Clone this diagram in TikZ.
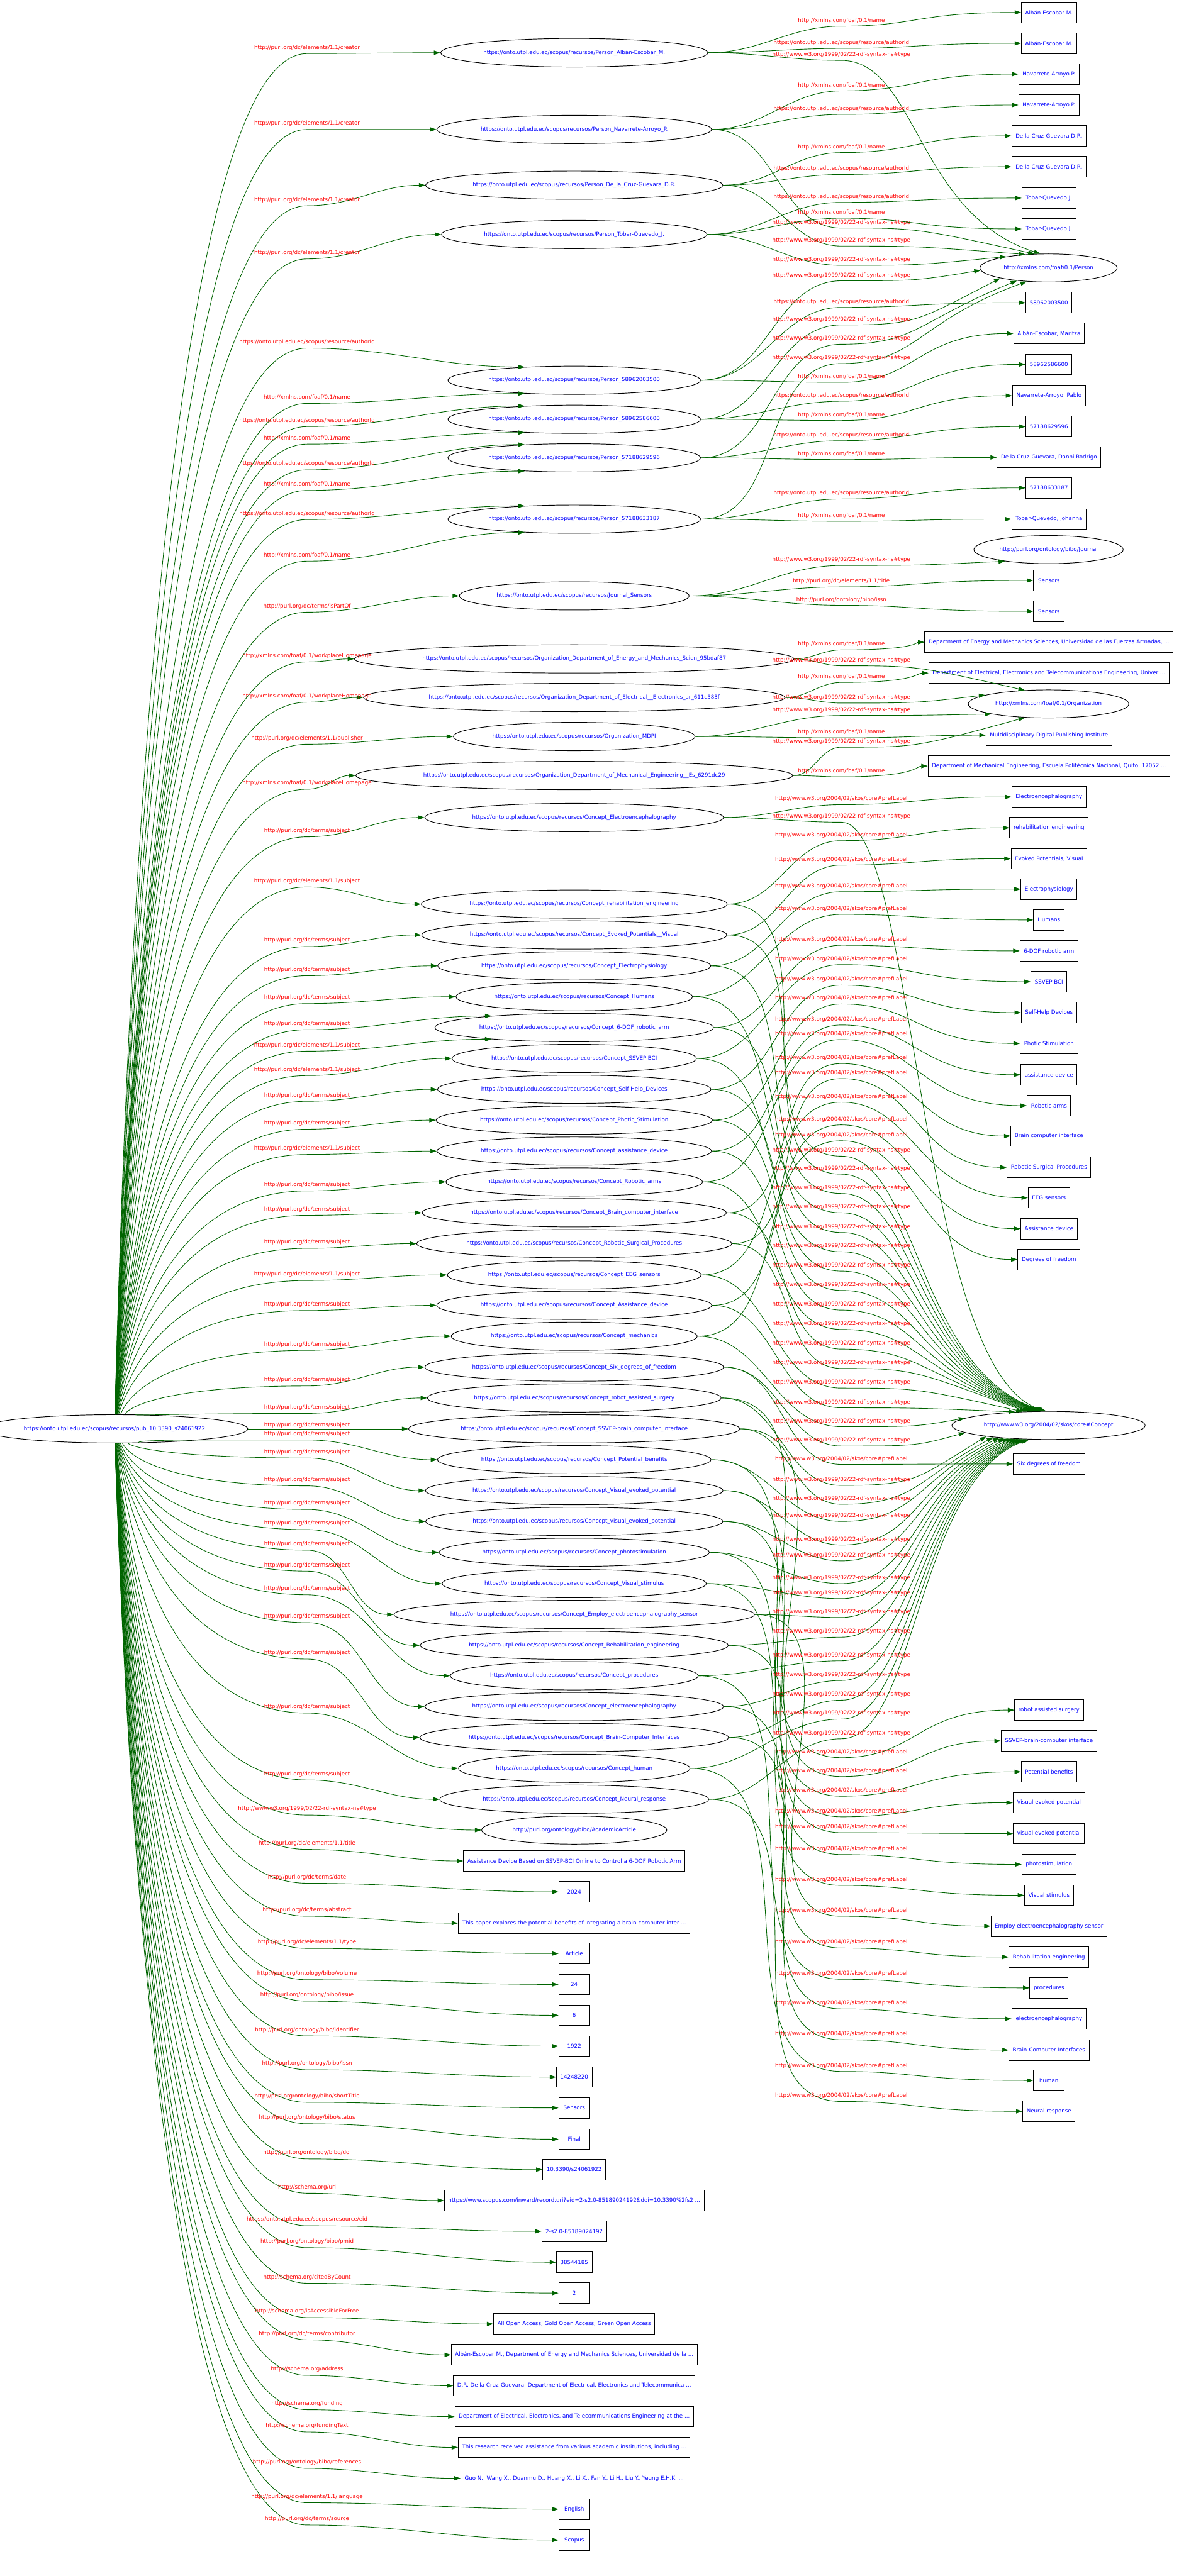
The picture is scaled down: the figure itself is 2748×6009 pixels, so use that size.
\documentclass[tikz,border=0pt]{standalone}
\usepackage{fontspec}
\setmainfont{DejaVu Sans}
\usetikzlibrary{arrows.meta,shapes.geometric}
\definecolor{edgegreen}{RGB}{0,100,0}
\definecolor{nodeblue}{RGB}{0,0,255}
\definecolor{labred}{RGB}{255,0,0}
\newdimen\ellw
\newdimen\ellh
\newcommand\nfont{\fontsize{12.75pt}{15pt}\selectfont}
\newcommand\Rp{https://onto.utpl.edu.ec/scopus/recursos/}
\newcommand\LbName{http://xmlns.com/foaf/0.1/name}
\newcommand\LbAuth{https://onto.utpl.edu.ec/scopus/resource/authorId}
\newcommand\LbType{http://www.w3.org/1999/02/22-rdf-syntax-ns\#type}
\newcommand\LbPref{http://www.w3.org/2004/02/skos/core\#prefLabel}
\newcommand\LbCreator{http://purl.org/dc/elements/1.1/creator}
\newcommand\LbWork{http://xmlns.com/foaf/0.1/workplaceHomepage}
\newcommand\LbSubj{http://purl.org/dc/terms/subject}
\newcommand\LbESubj{http://purl.org/dc/elements/1.1/subject}
\newcommand\ENode[4]{\setbox0=\hbox{\nfont #4}\ellw=-0.0828\wd0\advance\ellw by 8.49pt\relax
  \ellh=-0.5\ht0\advance\ellh by -0.5\dp0\advance\ellh by 16.97pt\relax
  \node[ell,inner xsep=\ellw,inner ysep=\ellh] (#1) at (#2,#3) {#4};}
\newcommand\PubUp[3]{\draw[lnk] (pub) .. controls (310,{(3323+#1)/2}) and (430,{#1+14}) .. (716,{#1+14}) to[out=0,in=180] (#3); \node[elab] at (716,#1) {#2};}
\newcommand\PubDn[3]{\draw[lnk] (pub) .. controls (310,{(3371+#1)/2}) and (430,{#1+14}) .. (716,{#1+14}) to[out=0,in=180] (#3); \node[elab] at (716,#1) {#2};}
\newcommand\RtBox[5]{\draw[lnk] (#1) to[out=0,in=180] (1962,{#2+13}) .. controls (2137,{#2+13}) and (2137,#5) .. (#4.west); \node[elab] at (1962,#2) {#3};}
\newcommand\RtType[6]{\draw[lnk] (#1) to[out=0,in=180] (1962,{#2+13}) .. controls (2137,{#2+13}) and (2137,{ifthenelse(#2+13<#4,max(#2+13,#4-125),min(#2+13,#4+125))}) .. (#3.#5); \node[elab] at (1962,#2) {#6};}
\begin{document}
\begin{tikzpicture}[x=1pt,y=-1pt,
  ell/.style={ellipse,draw=black,line width=1.4pt,font=\nfont,text=nodeblue},
  bx/.style={rectangle,draw=black,line width=1.4pt,minimum height=48pt,minimum width=72pt,inner xsep=9pt,font=\nfont,text=nodeblue},
  elab/.style={font=\nfont,text=labred,inner sep=0pt},
  lnk/.style={draw=edgegreen,line width=1.3pt,-{Triangle[length=15pt,width=10pt]}}]
\fill[white] (0,0) rectangle (2748,6009);
\useasboundingbox (0,0) rectangle (2748,6009);

% ---- left node
\ENode{pub}{267}{3333}{\Rp pub\_10.3390\_s24061922}

% ---- middle column
\ENode{pA}{1339}{123}{\Rp Person\_Albán-Escobar\_M.}
\ENode{pN}{1339}{302}{\Rp Person\_Navarrete-Arroyo\_P.}
\ENode{pD}{1339}{432}{\Rp Person\_De\_la\_Cruz-Guevara\_D.R.}
\ENode{pT}{1339}{547}{\Rp Person\_Tobar-Quevedo\_J.}
\ENode{p1}{1339}{887}{\Rp Person\_58962003500}
\ENode{p2}{1339}{978}{\Rp Person\_58962586600}
\ENode{p3}{1339}{1068}{\Rp Person\_57188629596}
\ENode{p4}{1339}{1211}{\Rp Person\_57188633187}
\ENode{jS}{1339}{1390}{\Rp Journal\_Sensors}
\ENode{oEn}{1339}{1537}{\Rp Organization\_Department\_of\_Energy\_and\_Mechanics\_Scien\_95bdaf87}
\ENode{oEl}{1339}{1627}{\Rp Organization\_Department\_of\_Electrical\_\_Electronics\_ar\_611c583f}
\ENode{oMD}{1339}{1718}{\Rp Organization\_MDPI}
\ENode{oMe}{1339}{1809}{\Rp Organization\_Department\_of\_Mechanical\_Engineering\_\_Es\_6291dc29}
\ENode{c1}{1339}{1907}{\Rp Concept\_Electroencephalography}
\ENode{c2}{1339}{2109}{\Rp Concept\_rehabilitation\_engineering}
\ENode{c3}{1339}{2181}{\Rp Concept\_Evoked\_Potentials\_\_Visual}
\ENode{c4}{1339}{2253}{\Rp Concept\_Electrophysiology}
\ENode{c5}{1339}{2325}{\Rp Concept\_Humans}
\ENode{c6}{1339}{2397}{\Rp Concept\_6-DOF\_robotic\_arm}
\ENode{c7}{1339}{2469}{\Rp Concept\_SSVEP-BCI}
\ENode{c8}{1339}{2541}{\Rp Concept\_Self-Help\_Devices}
\ENode{c9}{1339}{2613}{\Rp Concept\_Photic\_Stimulation}
\ENode{c10}{1339}{2685}{\Rp Concept\_assistance\_device}
\ENode{c11}{1339}{2757}{\Rp Concept\_Robotic\_arms}
\ENode{c12}{1339}{2829}{\Rp Concept\_Brain\_computer\_interface}
\ENode{c13}{1339}{2901}{\Rp Concept\_Robotic\_Surgical\_Procedures}
\ENode{c14}{1339}{2974}{\Rp Concept\_EEG\_sensors}
\ENode{c15}{1339}{3045}{\Rp Concept\_Assistance\_device}
\ENode{c16}{1339}{3117}{\Rp Concept\_mechanics}
\ENode{c17}{1339}{3189}{\Rp Concept\_Six\_degrees\_of\_freedom}
\ENode{c18}{1339}{3261}{\Rp Concept\_robot\_assisted\_surgery}
\ENode{c19}{1339}{3333}{\Rp Concept\_SSVEP-brain\_computer\_interface}
\ENode{c20}{1339}{3405}{\Rp Concept\_Potential\_benefits}
\ENode{c21}{1339}{3477}{\Rp Concept\_Visual\_evoked\_potential}
\ENode{c22}{1339}{3549}{\Rp Concept\_visual\_evoked\_potential}
\ENode{c23}{1339}{3621}{\Rp Concept\_photostimulation}
\ENode{c24}{1339}{3694}{\Rp Concept\_Visual\_stimulus}
\ENode{c25}{1339}{3766}{\Rp Concept\_Employ\_electroencephalography\_sensor}
\ENode{c26}{1339}{3838}{\Rp Concept\_Rehabilitation\_engineering}
\ENode{c27}{1339}{3909}{\Rp Concept\_procedures}
\ENode{c28}{1339}{3981}{\Rp Concept\_electroencephalography}
\ENode{c29}{1339}{4053}{\Rp Concept\_Brain-Computer\_Interfaces}
\ENode{c30}{1339}{4125}{\Rp Concept\_human}
\ENode{c31}{1339}{4197}{\Rp Concept\_Neural\_response}
\ENode{aa}{1339}{4269}{http://purl.org/ontology/bibo/AcademicArticle}
\node[bx] (bTitle) at (1339,4341) {Assistance Device Based on SSVEP-BCI Online to Control a 6-DOF Robotic Arm};
\node[bx] (b2024) at (1339,4413) {2024};
\node[bx] (bAbs) at (1339,4486) {This paper explores the potential benefits of integrating a brain-computer inter ...};
\node[bx] (bArt) at (1339,4557) {Article};
\node[bx] (b24) at (1339,4629) {24};
\node[bx] (b6) at (1339,4701) {6};
\node[bx] (b1922) at (1339,4773) {1922};
\node[bx] (bIssn) at (1339,4845) {14248220};
\node[bx] (bSens) at (1339,4917) {Sensors};
\node[bx] (bFinal) at (1339,4990) {Final};
\node[bx] (bDoi) at (1339,5061) {10.3390/s24061922};
\node[bx] (bUrl) at (1339,5133) {https://www.scopus.com/inward/record.uri?eid=2-s2.0-85189024192\&doi=10.3390\%2fs2 ...};
\node[bx] (bEid) at (1339,5205) {2-s2.0-85189024192};
\node[bx] (bPmid) at (1339,5277) {38544185};
\node[bx] (b2) at (1339,5349) {2};
\node[bx] (bOA) at (1339,5421) {All Open Access; Gold Open Access; Green Open Access};
\node[bx] (bCon) at (1339,5493) {Albán-Escobar M., Department of Energy and Mechanics Sciences, Universidad de la ...};
\node[bx] (bAdd) at (1339,5565) {D.R. De la Cruz-Guevara; Department of Electrical, Electronics and Telecommunica ...};
\node[bx] (bFun) at (1339,5637) {Department of Electrical, Electronics, and Telecommunications Engineering at the ...};
\node[bx] (bFT) at (1339,5709) {This research received assistance from various academic institutions, including  ...};
\node[bx] (bRef) at (1339,5781) {Guo N., Wang X., Duanmu D., Huang X., Li X., Fan Y., Li H., Liu Y., Yeung E.H.K. ...};
\node[bx] (bEng) at (1339,5853) {English};
\node[bx] (bSco) at (1339,5925) {Scopus};

% ---- right column
\node[bx] (rA1) at (2446,29) {Albán-Escobar M.};
\node[bx] (rA2) at (2446,101) {Albán-Escobar M.};
\node[bx] (rN1) at (2446,173) {Navarrete-Arroyo P.};
\node[bx] (rN2) at (2446,245) {Navarrete-Arroyo P.};
\node[bx] (rD1) at (2446,317) {De la Cruz-Guevara D.R.};
\node[bx] (rD2) at (2446,389) {De la Cruz-Guevara D.R.};
\node[bx] (rT1) at (2446,462) {Tobar-Quevedo J.};
\node[bx] (rT2) at (2446,534) {Tobar-Quevedo J.};
\ENode{eP}{2445}{625}{http://xmlns.com/foaf/0.1/Person}
\node[bx] (r1id) at (2446,706) {58962003500};
\node[bx] (r1n) at (2446,778) {Albán-Escobar, Maritza};
\node[bx] (r2id) at (2446,850) {58962586600};
\node[bx] (r2n) at (2446,923) {Navarrete-Arroyo, Pablo};
\node[bx] (r3id) at (2446,995) {57188629596};
\node[bx] (r3n) at (2446,1067) {De la Cruz-Guevara, Danni Rodrigo};
\node[bx] (r4id) at (2446,1138) {57188633187};
\node[bx] (r4n) at (2446,1211) {Tobar-Quevedo, Johanna};
\ENode{eJ}{2445}{1282}{http://purl.org/ontology/bibo/Journal}
\node[bx] (rS1) at (2446,1354) {Sensors};
\node[bx] (rS2) at (2446,1426) {Sensors};
\node[bx] (rDE) at (2446,1498) {Department of Energy and Mechanics Sciences, Universidad de las Fuerzas Armadas, ...};
\node[bx] (rDEl) at (2446,1570) {Department of Electrical, Electronics and Telecommunications Engineering, Univer ...};
\ENode{eO}{2445}{1642}{http://xmlns.com/foaf/0.1/Organization}
\node[bx] (rMD) at (2446,1715) {Multidisciplinary Digital Publishing Institute};
\node[bx] (rDM) at (2446,1787) {Department of Mechanical Engineering, Escuela Politécnica Nacional, Quito, 17052 ...};
\node[bx] (k1) at (2446,1859) {Electroencephalography};
\node[bx] (k2) at (2446,1931) {rehabilitation engineering};
\node[bx] (k3) at (2446,2003) {Evoked Potentials, Visual};
\node[bx] (k4) at (2446,2074) {Electrophysiology};
\node[bx] (k5) at (2446,2146) {Humans};
\node[bx] (k6) at (2446,2218) {6-DOF robotic arm};
\node[bx] (k7) at (2446,2290) {SSVEP-BCI};
\node[bx] (k8) at (2446,2362) {Self-Help Devices};
\node[bx] (k9) at (2446,2434) {Photic Stimulation};
\node[bx] (k10) at (2446,2507) {assistance device};
\node[bx] (k11) at (2446,2579) {Robotic arms};
\node[bx] (k12) at (2446,2650) {Brain computer interface};
\node[bx] (k13) at (2446,2723) {Robotic Surgical Procedures};
\node[bx] (k14) at (2446,2794) {EEG sensors};
\node[bx] (k15) at (2446,2866) {Assistance device};
\node[bx] (k16) at (2446,2938) {Degrees of freedom};
\ENode{eC}{2445}{3325}{http://www.w3.org/2004/02/skos/core\#Concept}
\node[bx] (k17) at (2446,3415) {Six degrees of freedom};
\node[bx] (k18) at (2446,3989) {robot assisted surgery};
\node[bx] (k19) at (2446,4061) {SSVEP-brain-computer interface};
\node[bx] (k20) at (2446,4133) {Potential benefits};
\node[bx] (k21) at (2446,4205) {Visual evoked potential};
\node[bx] (k22) at (2446,4277) {visual evoked potential};
\node[bx] (k23) at (2446,4349) {photostimulation};
\node[bx] (k24) at (2446,4421) {Visual stimulus};
\node[bx] (k25) at (2446,4493) {Employ electroencephalography sensor};
\node[bx] (k26) at (2446,4565) {Rehabilitation engineering};
\node[bx] (k27) at (2446,4637) {procedures};
\node[bx] (k28) at (2446,4709) {electroencephalography};
\node[bx] (k29) at (2446,4782) {Brain-Computer Interfaces};
\node[bx] (k30) at (2446,4853) {human};
\node[bx] (k31) at (2446,4925) {Neural response};

% ---- edges from pub
\PubUp{111}{\LbCreator}{pA}
\PubUp{288}{\LbCreator}{pN}
\PubUp{466}{\LbCreator}{pD}
\PubUp{590}{\LbCreator}{pT}
\PubUp{798}{\LbAuth}{p1.165}
\PubUp{927}{\LbName}{p1.195}
\PubUp{981}{\LbAuth}{p2.165}
\PubUp{1022}{\LbName}{p2.195}
\PubUp{1082}{\LbAuth}{p3.165}
\PubUp{1130}{\LbName}{p3.195}
\PubUp{1198}{\LbAuth}{p4.165}
\PubUp{1295}{\LbName}{p4.195}
\PubUp{1414}{http://purl.org/dc/terms/isPartOf}{jS}
\PubUp{1530}{\LbWork}{oEn}
\PubUp{1624}{\LbWork}{oEl}
\PubUp{1722}{http://purl.org/dc/elements/1.1/publisher}{oMD}
\PubUp{1827}{\LbWork}{oMe}
\PubUp{1938}{\LbSubj}{c1}
\PubUp{2055}{\LbESubj}{c2}
\PubUp{2194}{\LbSubj}{c3}
\PubUp{2262}{\LbSubj}{c4}
\PubUp{2327}{\LbSubj}{c5}
\PubUp{2388}{\LbSubj}{c6.172}
\PubUp{2438}{\LbESubj}{c6.188}
\PubUp{2495}{\LbESubj}{c7}
\PubUp{2555}{\LbSubj}{c8}
\PubUp{2620}{\LbSubj}{c9}
\PubUp{2679}{\LbESubj}{c10}
\PubUp{2764}{\LbSubj}{c11}
\PubUp{2821}{\LbSubj}{c12}
\PubUp{2898}{\LbSubj}{c13}
\PubUp{2973}{\LbESubj}{c14}
\PubUp{3043}{\LbSubj}{c15}
\PubUp{3136}{\LbSubj}{c16}
\PubUp{3219}{\LbSubj}{c17}
\PubUp{3283}{\LbSubj}{c18}
\draw[lnk] (pub) -- (c19); \node[elab] at (716,3324) {\LbSubj};
\PubDn{3345}{\LbSubj}{c20}
\PubDn{3387}{\LbSubj}{c21}
\PubDn{3452}{\LbSubj}{c22}
\PubDn{3507}{\LbSubj}{c23}
\PubDn{3554}{\LbSubj}{c24}
\PubDn{3602}{\LbSubj}{c25}
\PubDn{3651}{\LbSubj}{c26}
\PubDn{3706}{\LbSubj}{c27}
\PubDn{3771}{\LbSubj}{c28}
\PubDn{3856}{\LbSubj}{c29}
\PubDn{3982}{\LbSubj}{c30}
\PubDn{4138}{\LbSubj}{c31}
\PubDn{4220}{\LbType}{aa}
\PubDn{4300}{http://purl.org/dc/elements/1.1/title}{bTitle}
\PubDn{4379}{http://purl.org/dc/terms/date}{b2024}
\PubDn{4456}{http://purl.org/dc/terms/abstract}{bAbs}
\PubDn{4531}{http://purl.org/dc/elements/1.1/type}{bArt}
\PubDn{4604}{http://purl.org/ontology/bibo/volume}{b24}
\PubDn{4654}{http://purl.org/ontology/bibo/issue}{b6}
\PubDn{4735}{http://purl.org/ontology/bibo/identifier}{b1922}
\PubDn{4814}{http://purl.org/ontology/bibo/issn}{bIssn}
\PubDn{4890}{http://purl.org/ontology/bibo/shortTitle}{bSens}
\PubDn{4940}{http://purl.org/ontology/bibo/status}{bFinal}
\PubDn{5022}{http://purl.org/ontology/bibo/doi}{bDoi}
\PubDn{5102}{http://schema.org/url}{bUrl}
\PubDn{5178}{https://onto.utpl.edu.ec/scopus/resource/eid}{bEid}
\PubDn{5229}{http://purl.org/ontology/bibo/pmid}{bPmid}
\PubDn{5312}{http://schema.org/citedByCount}{b2}
\PubDn{5392}{http://schema.org/isAccessibleForFree}{bOA}
\PubDn{5444}{http://purl.org/dc/terms/contributor}{bCon}
\PubDn{5527}{http://schema.org/address}{bAdd}
\PubDn{5607}{http://schema.org/funding}{bFun}
\PubDn{5659}{http://schema.org/fundingText}{bFT}
\PubDn{5744}{http://purl.org/ontology/bibo/references}{bRef}
\PubDn{5824}{http://purl.org/dc/elements/1.1/language}{bEng}
\PubDn{5876}{http://purl.org/dc/terms/source}{bSco}

% ---- persons to right
\RtBox{pA}{48}{\LbName}{rA1}{29}
\RtBox{pA}{100}{\LbAuth}{rA2}{101}
\RtType{pA}{128}{eP}{625}{120}{\LbType}
\RtBox{pN}{199}{\LbName}{rN1}{173}
\RtBox{pN}{254}{\LbAuth}{rN2}{245}
\RtType{pN}{519}{eP}{625}{135}{\LbType}
\RtBox{pD}{343}{\LbName}{rD1}{317}
\RtBox{pD}{394}{\LbAuth}{rD2}{389}
\RtType{pD}{561}{eP}{625}{150}{\LbType}
\RtBox{pT}{459}{\LbAuth}{rT1}{462}
\RtBox{pT}{496}{\LbName}{rT2}{534}
\RtType{pT}{606}{eP}{625}{165}{\LbType}
\RtType{p1}{642}{eP}{625}{182}{\LbType}
\RtBox{p1}{704}{\LbAuth}{r1id}{706}
\RtBox{p1}{879}{\LbName}{r1n}{778}
\RtType{p2}{745}{eP}{625}{192}{\LbType}
\RtBox{p2}{923}{\LbAuth}{r2id}{850}
\RtBox{p2}{968}{\LbName}{r2n}{923}
\RtType{p3}{790}{eP}{625}{202}{\LbType}
\RtBox{p3}{1015}{\LbAuth}{r3id}{995}
\RtBox{p3}{1059}{\LbName}{r3n}{1067}
\RtType{p4}{835}{eP}{625}{212}{\LbType}
\RtBox{p4}{1151}{\LbAuth}{r4id}{1138}
\RtBox{p4}{1203}{\LbName}{r4n}{1211}
% journal
\RtType{jS}{1306}{eJ}{1282}{195}{\LbType}
\RtBox{jS}{1356}{http://purl.org/dc/elements/1.1/title}{rS1}{1354}
\RtBox{jS}{1399}{http://purl.org/ontology/bibo/issn}{rS2}{1426}
% organizations
\RtBox{oEn}{1503}{\LbName}{rDE}{1498}
\RtType{oEn}{1540}{eO}{1642}{150}{\LbType}
\RtBox{oEl}{1579}{\LbName}{rDEl}{1570}
\RtType{oEl}{1627}{eO}{1642}{172}{\LbType}
\RtType{oMD}{1656}{eO}{1642}{190}{\LbType}
\RtBox{oMD}{1708}{\LbName}{rMD}{1715}
\RtType{oMe}{1730}{eO}{1642}{210}{\LbType}
\RtBox{oMe}{1799}{\LbName}{rDM}{1787}
% concepts
\RtBox{c1}{1864}{\LbPref}{k1}{1859}   \RtType{c1}{1905}{eC}{3325}{100}{\LbType}
\RtBox{c2}{1948}{\LbPref}{k2}{1931}   \RtType{c2}{2684}{eC}{3325}{104}{\LbType}
\RtBox{c3}{2005}{\LbPref}{k3}{2003}   \RtType{c3}{2726}{eC}{3325}{108}{\LbType}
\RtBox{c4}{2067}{\LbPref}{k4}{2074}   \RtType{c4}{2771}{eC}{3325}{112}{\LbType}
\RtBox{c5}{2120}{\LbPref}{k5}{2146}   \RtType{c5}{2816}{eC}{3325}{116}{\LbType}
\RtBox{c6}{2192}{\LbPref}{k6}{2218}   \RtType{c6}{2862}{eC}{3325}{120}{\LbType}
\RtBox{c7}{2237}{\LbPref}{k7}{2290}   \RtType{c7}{2907}{eC}{3325}{124}{\LbType}
\RtBox{c8}{2285}{\LbPref}{k8}{2362}   \RtType{c8}{2952}{eC}{3325}{128}{\LbType}
\RtBox{c9}{2329}{\LbPref}{k9}{2434}   \RtType{c9}{2997}{eC}{3325}{132}{\LbType}
\RtBox{c10}{2378}{\LbPref}{k10}{2507} \RtType{c10}{3043}{eC}{3325}{136}{\LbType}
\RtBox{c11}{2412}{\LbPref}{k11}{2579} \RtType{c11}{3088}{eC}{3325}{140}{\LbType}
\RtBox{c12}{2468}{\LbPref}{k12}{2650} \RtType{c12}{3134}{eC}{3325}{144}{\LbType}
\RtBox{c13}{2503}{\LbPref}{k13}{2723} \RtType{c13}{3179}{eC}{3325}{148}{\LbType}
\RtBox{c14}{2558}{\LbPref}{k14}{2794} \RtType{c14}{3225}{eC}{3325}{152}{\LbType}
\RtBox{c15}{2611}{\LbPref}{k15}{2866} \RtType{c15}{3271}{eC}{3325}{158}{\LbType}
\RtBox{c16}{2648}{\LbPref}{k16}{2938} \RtType{c16}{3315}{eC}{3325}{175}{\LbType}
\RtBox{c17}{3403}{\LbPref}{k17}{3415} \RtType{c17}{3360}{eC}{3325}{185}{\LbType}
\RtBox{c18}{4087}{\LbPref}{k18}{3989} \RtType{c18}{3452}{eC}{3325}{190}{\LbType}
\RtBox{c19}{4131}{\LbPref}{k19}{4061} \RtType{c19}{3496}{eC}{3325}{192}{\LbType}
\RtBox{c20}{4177}{\LbPref}{k20}{4133} \RtType{c20}{3536}{eC}{3325}{194}{\LbType}
\RtBox{c21}{4225}{\LbPref}{k21}{4205} \RtType{c21}{3591}{eC}{3325}{196}{\LbType}
\RtBox{c22}{4262}{\LbPref}{k22}{4277} \RtType{c22}{3628}{eC}{3325}{198}{\LbType}
\RtBox{c23}{4313}{\LbPref}{k23}{4349} \RtType{c23}{3681}{eC}{3325}{200}{\LbType}
\RtBox{c24}{4385}{\LbPref}{k24}{4421} \RtType{c24}{3716}{eC}{3325}{202}{\LbType}
\RtBox{c25}{4457}{\LbPref}{k25}{4493} \RtType{c25}{3760}{eC}{3325}{204}{\LbType}
\RtBox{c26}{4531}{\LbPref}{k26}{4565} \RtType{c26}{3806}{eC}{3325}{206}{\LbType}
\RtBox{c27}{4604}{\LbPref}{k27}{4637} \RtType{c27}{3861}{eC}{3325}{208}{\LbType}
\RtBox{c28}{4673}{\LbPref}{k28}{4709} \RtType{c28}{3907}{eC}{3325}{210}{\LbType}
\RtBox{c29}{4745}{\LbPref}{k29}{4782} \RtType{c29}{3953}{eC}{3325}{212}{\LbType}
\RtBox{c30}{4819}{\LbPref}{k30}{4853} \RtType{c30}{3997}{eC}{3325}{214}{\LbType}
\RtBox{c31}{4889}{\LbPref}{k31}{4925} \RtType{c31}{4043}{eC}{3325}{216}{\LbType}
\end{tikzpicture}
\end{document}
